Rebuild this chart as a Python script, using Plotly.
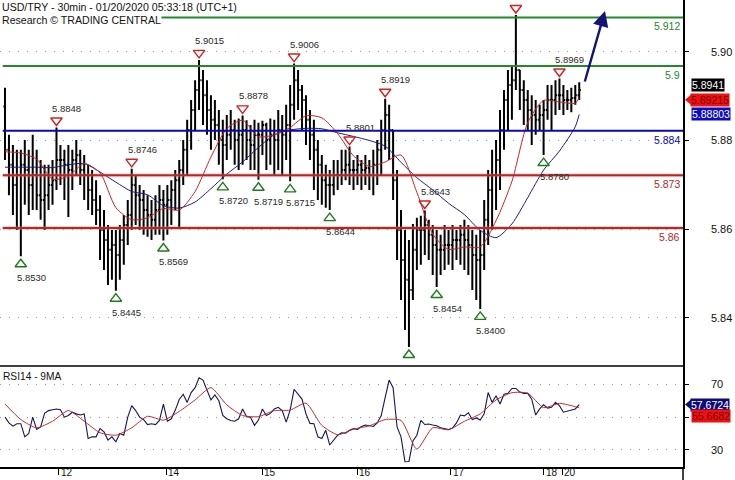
import plotly.graph_objects as go

# ---------------- DATA (hourly-aggregated bars of the 30-min chart) ----------------
highs = [5.8946, 5.8830, 5.8805, 5.8793, 5.8793, 5.8817, 5.8793, 5.8830, 5.8793, 5.8768,
         5.8756, 5.8756, 5.8768, 5.8848, 5.8805, 5.8793, 5.8805, 5.8793, 5.8817, 5.8793,
         5.8780, 5.8756, 5.8743, 5.8718, 5.8681, 5.8644, 5.8607, 5.8595, 5.8595, 5.8607,
         5.8632, 5.8669, 5.8746, 5.8731, 5.8706, 5.8694, 5.8681, 5.8669, 5.8681, 5.8706,
         5.8694, 5.8706, 5.8718, 5.8743, 5.8768, 5.8817, 5.8867, 5.8916, 5.8965, 5.9015,
         5.8990, 5.8965, 5.8928, 5.8916, 5.8891, 5.8867, 5.8879, 5.8891, 5.8867, 5.8870,
         5.8878, 5.8866, 5.8854, 5.8867, 5.8860, 5.8865, 5.8860, 5.8870, 5.8867, 5.8891,
         5.8879, 5.8904, 5.8953, 5.9006, 5.8990, 5.8953, 5.8928, 5.8891, 5.8867, 5.8817,
         5.8780, 5.8756, 5.8743, 5.8768, 5.8768, 5.8793, 5.8793, 5.8801, 5.8768, 5.8780,
         5.8768, 5.8780, 5.8768, 5.8793, 5.8817, 5.8867, 5.8919, 5.8904, 5.8842, 5.8743,
         5.8644, 5.8595, 5.8570, 5.8610, 5.8625, 5.8630, 5.8643, 5.8620, 5.8607, 5.8595,
         5.8583, 5.8607, 5.8595, 5.8607, 5.8595, 5.8607, 5.8620, 5.8607, 5.8595, 5.8583,
         5.8595, 5.8669, 5.8743, 5.8793, 5.8817, 5.8891, 5.8941, 5.8990, 5.9002, 5.9126,
         5.8990, 5.8965, 5.8941, 5.8928, 5.8916, 5.8904, 5.8916, 5.8953, 5.8953, 5.8965,
         5.8969, 5.8953, 5.8941, 5.8946, 5.8953, 5.8960]
lows = [5.8768, 5.8681, 5.8632, 5.8595, 5.8530, 5.8657, 5.8632, 5.8644, 5.8644, 5.8620,
        5.8595, 5.8644, 5.8657, 5.8694, 5.8706, 5.8669, 5.8627, 5.8694, 5.8731, 5.8706,
        5.8669, 5.8644, 5.8632, 5.8607, 5.8521, 5.8496, 5.8459, 5.8472, 5.8445, 5.8472,
        5.8509, 5.8558, 5.8595, 5.8607, 5.8595, 5.8583, 5.8578, 5.8570, 5.8583, 5.8583,
        5.8569, 5.8583, 5.8607, 5.8644, 5.8600, 5.8706, 5.8731, 5.8793, 5.8842, 5.8891,
        5.8854, 5.8830, 5.8793, 5.8817, 5.8756, 5.8720, 5.8768, 5.8793, 5.8756, 5.8743,
        5.8756, 5.8768, 5.8743, 5.8743, 5.8719, 5.8780, 5.8743, 5.8756, 5.8731, 5.8743,
        5.8731, 5.8768, 5.8715, 5.8867, 5.8891, 5.8842, 5.8805, 5.8768, 5.8694, 5.8669,
        5.8657, 5.8650, 5.8644, 5.8681, 5.8694, 5.8706, 5.8718, 5.8706, 5.8694, 5.8706,
        5.8694, 5.8706, 5.8694, 5.8681, 5.8706, 5.8731, 5.8793, 5.8768, 5.8669, 5.8521,
        5.8422, 5.8348, 5.8306, 5.8422, 5.8496, 5.8509, 5.8533, 5.8521, 5.8484, 5.8454,
        5.8484, 5.8496, 5.8509, 5.8496, 5.8521, 5.8509, 5.8496, 5.8484, 5.8447, 5.8422,
        5.8400, 5.8496, 5.8558, 5.8595, 5.8644, 5.8694, 5.8793, 5.8842, 5.8867, 5.8941,
        5.8891, 5.8854, 5.8842, 5.8805, 5.8830, 5.8842, 5.8780, 5.8867, 5.8842, 5.8879,
        5.8891, 5.8879, 5.8891, 5.8886, 5.8904, 5.8916]
closes = [5.8793, 5.8756, 5.8706, 5.8731, 5.8756, 5.8743, 5.8706, 5.8731, 5.8681, 5.8669,
          5.8681, 5.8706, 5.8718, 5.8768, 5.8768, 5.8756, 5.8743, 5.8768, 5.8780, 5.8743,
          5.8731, 5.8694, 5.8669, 5.8644, 5.8595, 5.8570, 5.8546, 5.8558, 5.8533, 5.8570,
          5.8607, 5.8632, 5.8706, 5.8681, 5.8669, 5.8644, 5.8632, 5.8620, 5.8644, 5.8669,
          5.8657, 5.8669, 5.8694, 5.8718, 5.8743, 5.8793, 5.8842, 5.8891, 5.8941, 5.8965,
          5.8928, 5.8891, 5.8867, 5.8854, 5.8817, 5.8805, 5.8830, 5.8842, 5.8817, 5.8830,
          5.8842, 5.8817, 5.8805, 5.8830, 5.8830, 5.8854, 5.8817, 5.8830, 5.8817, 5.8842,
          5.8830, 5.8854, 5.8904, 5.8965, 5.8941, 5.8916, 5.8867, 5.8830, 5.8793, 5.8756,
          5.8718, 5.8706, 5.8706, 5.8731, 5.8731, 5.8743, 5.8756, 5.8743, 5.8743, 5.8756,
          5.8743, 5.8748, 5.8731, 5.8756, 5.8793, 5.8842, 5.8879, 5.8842, 5.8718, 5.8595,
          5.8521, 5.8472, 5.8447, 5.8546, 5.8595, 5.8595, 5.8607, 5.8583, 5.8558, 5.8546,
          5.8546, 5.8558, 5.8558, 5.8570, 5.8570, 5.8583, 5.8570, 5.8558, 5.8533, 5.8521,
          5.8533, 5.8620, 5.8694, 5.8731, 5.8768, 5.8842, 5.8916, 5.8953, 5.8965, 5.8990,
          5.8941, 5.8916, 5.8891, 5.8879, 5.8867, 5.8879, 5.8891, 5.8916, 5.8916, 5.8928,
          5.8928, 5.8916, 5.8916, 5.8921, 5.8928, 5.8941]
first_open = 5.8900

# moving averages on the price panel (one value every 4 bars, plus the last bar)
red_ma = [5.8788, 5.8785, 5.8770, 5.8720, 5.8728, 5.8759, 5.8736, 5.8650, 5.8620, 5.8625,
          5.8648, 5.8644, 5.8690, 5.8775, 5.8845, 5.8866, 5.8825, 5.8830, 5.8848, 5.8877,
          5.8872, 5.8833, 5.8778, 5.8752, 5.8763, 5.8780, 5.8688, 5.8585, 5.8547, 5.8553,
          5.8553, 5.8618, 5.8715, 5.8860, 5.8915, 5.8911, 5.8908, 5.89215]
blue_ma = [5.8750, 5.8750, 5.8750, 5.8749, 5.8756, 5.8759, 5.8738, 5.8713, 5.8690, 5.8682,
           5.8655, 5.8649, 5.8664, 5.8697, 5.8733, 5.8763, 5.8799, 5.8830, 5.8842, 5.8846,
           5.8845, 5.8835, 5.8826, 5.8816, 5.8802, 5.8762, 5.8724, 5.8694, 5.8661, 5.8633,
           5.8594, 5.8576, 5.8610, 5.8675, 5.8743, 5.8790, 5.8850, 5.88803]

# RSI14 per bar and its 9MA (every 4 bars, plus last)
rsi = [50, 46.5, 44.5, 46, 46, 38, 40, 50, 42.5, 44,
       52.3, 54, 54.5, 55, 54.5, 50, 51, 53, 52, 51.3,
       52, 37, 38, 38, 43, 41, 36, 38, 35, 40,
       39, 50, 57, 54, 50, 48.5, 45.5, 46, 45.5, 48,
       58, 47.5, 49, 54.3, 60.8, 64, 59, 65, 68, 74,
       72.6, 66, 60.5, 63.5, 60, 51, 49, 48, 47.5, 49,
       55, 50.3, 50, 45, 48.2, 55, 51, 52.3, 55, 56,
       54, 47, 54.3, 67, 64, 61, 52, 46.2, 46, 38,
       37, 42, 33, 36, 39, 40.5, 40.2, 42, 43, 42.5,
       44.3, 45.2, 44.8, 44.3, 46.5, 51, 62, 72.6, 68, 44,
       38, 22.8, 23, 35.5, 39, 48, 45.5, 45.8, 45.2, 44.8,
       43.5, 42.8, 42.5, 43.3, 46.5, 51.3, 50.8, 52.7, 48.5, 49.5,
       48.2, 52, 65, 59, 63, 58, 64, 64.5, 67.5, 67.5,
       65.3, 64.5, 64.5, 61, 51.3, 55, 57.5, 55.5, 56, 59,
       57, 53, 53.8, 54.3, 55, 57.6724]
rsi_ma = [58, 48.5, 43.5, 47.5, 54, 47.5, 40.5, 39, 43.5, 50.5,
          48.2, 53.5, 60.5, 68, 57.5, 51, 50.3, 54, 54.3, 58.5,
          45, 39.3, 42.7, 44.7, 48.5, 48, 30.5, 43.5, 42.3, 47.5,
          52, 60.5, 64.9, 64.6, 55.8, 58.4, 56.4, 55.6682]

# swing points (bar index); label shown when flag is True
peak_bars = [13, 32, 49, 60, 73, 87, 96, 106, 129, 140]
peak_labeled = [True, True, True, True, True, True, True, True, False, True]
trough_bars = [4, 28, 40, 55, 64, 72, 82, 102, 109, 120, 136]
trough_labeled = [True, True, True, True, True, True, True, False, True, True, True]

# key levels
level_values = [5.912, 5.9, 5.884, 5.873, 5.86]
level_labels = ["5.912", "5.9", "5.884", "5.873", "5.86"]
level_colors = ["#23892a", "#23892a", "#0a0ab4", "#b42828", "#b42828"]

# forecast arrow (bar, price) start -> end
arrow_start = (146.3, 5.8958)
arrow_end = (151.5, 5.9136)

# axis tick labels
price_tick_values = [5.9035, 5.8817, 5.8597, 5.8378]
price_tick_labels = ["5.90", "5.88", "5.86", "5.84"]
rsi_tick_values = [30, 50, 70]
rsi_tick_labels = ["30", "", "70"]
day_tick_bars = [13.6, 40.7, 64.9, 88.9, 112.6, 136.1, 140.7]
day_tick_labels = ["12", "14", "15", "16", "17", "18", "20"]

last_price = 5.8941
title_text = "USD/TRY - 30min - 01/20/2020 05:33:18 (UTC+1)"
subtitle_text = "Research \u00a9 TRADING CENTRAL"

# ---------------- FIGURE ----------------
FONT = "Liberation Sans, Arial, sans-serif"
bars = list(range(len(closes)))
opens = [first_open] + closes[:-1]
opens = [min(max(o, l), h) for o, l, h in zip(opens, lows, highs)]
ma_x = list(range(0, len(closes) - 1, 4)) + [len(closes) - 1]

Y_MIN, Y_MAX = 5.8259, 5.9163
SPLIT = 0.2163
ppx = (Y_MAX - Y_MIN) / 366.0

fig = go.Figure()
fig.add_trace(go.Ohlc(x=bars, open=opens, high=highs, low=lows, close=closes,
                      increasing=dict(line=dict(color="black", width=2)),
                      decreasing=dict(line=dict(color="black", width=2)),
                      tickwidth=0.4, hoverinfo="skip", xaxis="x", yaxis="y"))
fig.add_trace(go.Scatter(x=ma_x, y=blue_ma, mode="lines", line=dict(color="#1c1c8c", width=1, shape="spline", smoothing=0.7),
                         hoverinfo="skip", xaxis="x", yaxis="y"))
fig.add_trace(go.Scatter(x=ma_x, y=red_ma, mode="lines", line=dict(color="#cc2222", width=1, shape="spline", smoothing=0.7),
                         hoverinfo="skip", xaxis="x", yaxis="y"))

# swing markers
fig.add_trace(go.Scatter(x=peak_bars, y=[highs[b] + 7 * ppx for b in peak_bars], mode="markers",
                         marker=dict(symbol="triangle-down-open", size=10, color="#d42020", line=dict(width=1.4)),
                         hoverinfo="skip", xaxis="x", yaxis="y"))
fig.add_trace(go.Scatter(x=trough_bars, y=[lows[b] - 8 * ppx for b in trough_bars], mode="markers",
                         marker=dict(symbol="triangle-up-open", size=10, color="#1a7d1a", line=dict(width=1.4)),
                         hoverinfo="skip", xaxis="x", yaxis="y"))

# RSI panel
fig.add_trace(go.Scatter(x=bars, y=rsi, mode="lines", line=dict(color="#14145a", width=1.1),
                         hoverinfo="skip", xaxis="x", yaxis="y2"))
fig.add_trace(go.Scatter(x=ma_x, y=rsi_ma, mode="lines", line=dict(color="#c42a2a", width=1, shape="spline", smoothing=0.6),
                         hoverinfo="skip", xaxis="x", yaxis="y2"))

shapes = []
annotations = []

# levels
for v, lab, c in zip(level_values, level_labels, level_colors):
    if c == "#b42828":
        shapes.append(dict(type="line", xref="paper", yref="y", x0=0.004, x1=1, y0=v, y1=v,
                           line=dict(color="rgba(235,120,120,0.35)", width=4), layer="above"))
    shapes.append(dict(type="line", xref="paper", yref="y", x0=0.004, x1=1, y0=v, y1=v,
                       line=dict(color=c, width=2), layer="above"))
    annotations.append(dict(xref="paper", yref="y", x=1, y=v, xanchor="right", yanchor="top",
                            xshift=-1, yshift=-1, text=lab, showarrow=False,
                            font=dict(family=FONT, size=10.5, color=c)))

# swing labels
for b, show in zip(peak_bars, peak_labeled):
    if show:
        annotations.append(dict(xref="x", yref="y", x=b, y=highs[b] + 7 * ppx, xanchor="left", yanchor="bottom",
                                xshift=-6, yshift=5, text=f"{highs[b]:.4f}", showarrow=False,
                                font=dict(family=FONT, size=9.5, color="#2a2a2a")))
for b, show in zip(trough_bars, trough_labeled):
    if show:
        annotations.append(dict(xref="x", yref="y", x=b, y=lows[b] - 8 * ppx, xanchor="left", yanchor="top",
                                xshift=-6, yshift=-6, text=f"{lows[b]:.4f}", showarrow=False,
                                font=dict(family=FONT, size=9.5, color="#2a2a2a")))

# forecast arrow
annotations.append(dict(xref="x", yref="y", axref="x", ayref="y", x=arrow_end[0], y=arrow_end[1],
                        ax=arrow_start[0], ay=arrow_start[1], showarrow=True, arrowhead=2, arrowsize=1.3,
                        arrowwidth=2.4, arrowcolor="#12127a", text=""))

# titles
annotations.append(dict(xref="paper", yref="paper", x=0, y=1, xanchor="left", yanchor="top", xshift=1,
                        text=title_text, showarrow=False, bgcolor="white", borderpad=0,
                        font=dict(family=FONT, size=10.6, color="#111")))
annotations.append(dict(xref="paper", yref="paper", x=0, y=1, xanchor="left", yanchor="top", xshift=1, yshift=-13,
                        text=subtitle_text, showarrow=False, bgcolor="white", borderpad=0,
                        font=dict(family=FONT, size=10.6, color="#111")))
annotations.append(dict(xref="paper", yref="paper", x=0, y=SPLIT, xanchor="left", yanchor="top", xshift=1, yshift=-3,
                        text="RSI14 - 9MA", showarrow=False,
                        font=dict(family=FONT, size=10.2, color="#111")))

# day labels just right of their ticks
for b, lab in zip(day_tick_bars, day_tick_labels):
    annotations.append(dict(xref="x", yref="paper", x=b, y=0, xanchor="left", yanchor="top",
                            xshift=1, yshift=1, text=lab, showarrow=False, borderpad=0,
                            font=dict(family=FONT, size=10, color="#111")))

# value boxes on the right axis
def value_box(yref, y, text, bg, fg, xshift, yshift, pointer=False):
    annotations.append(dict(xref="paper", yref=yref, x=1, y=y, xanchor="left", yanchor="middle",
                            xshift=xshift, yshift=yshift, text=text, showarrow=False, bgcolor=bg,
                            borderpad=0, font=dict(family=FONT, size=10.5, color=fg)))
    if pointer:
        shapes.append(dict(type="path", xref="paper", yref=yref, xsizemode="pixel", ysizemode="pixel",
                           xanchor=1, yanchor=y, path=f"M 2 {yshift} L 8 {yshift + 5} L 8 {yshift - 5} Z",
                           fillcolor=bg, line=dict(width=0), layer="above"))

value_box("y", last_price, f"{last_price:.4f}", "black", "white", 8, 5)
value_box("y", red_ma[-1], f"{red_ma[-1]:.5f}", "#ee1111", "#7a0000", 7, -2, pointer=True)
value_box("y", blue_ma[-1], f"{blue_ma[-1]:.5f}", "#0a0ac8", "white", 8, 0)
value_box("y2", rsi[-1], f"{rsi[-1]:.4f}", "#0c0c78", "white", 7, 0, pointer=True)
value_box("y2", rsi_ma[-1], f"{rsi_ma[-1]:.4f}", "#ee1111", "#7a0000", 8, -8)

# panel separator and axis extension
shapes.append(dict(type="line", xref="paper", yref="paper", x0=0, x1=1, y0=SPLIT, y1=SPLIT,
                   line=dict(color="black", width=1.5), layer="above"))
shapes.append(dict(type="line", xref="paper", yref="paper", x0=1, x1=1, y0=0, y1=-0.03,
                   line=dict(color="black", width=1.5), layer="above"))

grid_dash = "1px,8px"
fig.update_layout(
    width=735, height=480, margin=dict(l=0, r=52, t=0, b=13, autoexpand=False),
    paper_bgcolor="white", plot_bgcolor="white", showlegend=False,
    font=dict(family=FONT, size=10.5, color="#111"),
    xaxis=dict(domain=[0, 1], range=[-1.26, 171.2], anchor="y2", showline=True, linecolor="black", linewidth=1.5,
               ticks="outside", ticklen=6, tickcolor="black", tickvals=day_tick_bars, showticklabels=False,
               showgrid=False, zeroline=False, automargin=False,
               rangeslider=dict(visible=False), fixedrange=True),
    yaxis=dict(domain=[SPLIT, 1], range=[Y_MIN, Y_MAX], side="right", anchor="x", showline=True,
               linecolor="black", linewidth=1.5, ticks="outside", ticklen=4, tickcolor="black",
               tickvals=price_tick_values, ticktext=price_tick_labels, ticklabelstandoff=20,
               showgrid=True, gridcolor="#9a9a9a", griddash=grid_dash, gridwidth=1, zeroline=False,
               automargin=False, fixedrange=True, tickfont=dict(size=11)),
    yaxis2=dict(domain=[0, SPLIT], range=[19.6, 81.2], side="right", anchor="x", showline=True,
                linecolor="black", linewidth=1.5, ticks="outside", ticklen=4, tickcolor="black",
                tickvals=rsi_tick_values, ticktext=rsi_tick_labels, ticklabelstandoff=20,
                showgrid=True, gridcolor="#9a9a9a", griddash=grid_dash, gridwidth=1, zeroline=False,
                automargin=False, fixedrange=True, tickfont=dict(size=11)),
    shapes=shapes, annotations=annotations,
)

fig.write_html("out.html", config={"displayModeBar": False},
               post_script="document.body.style.margin='0';document.body.style.padding='0';")
